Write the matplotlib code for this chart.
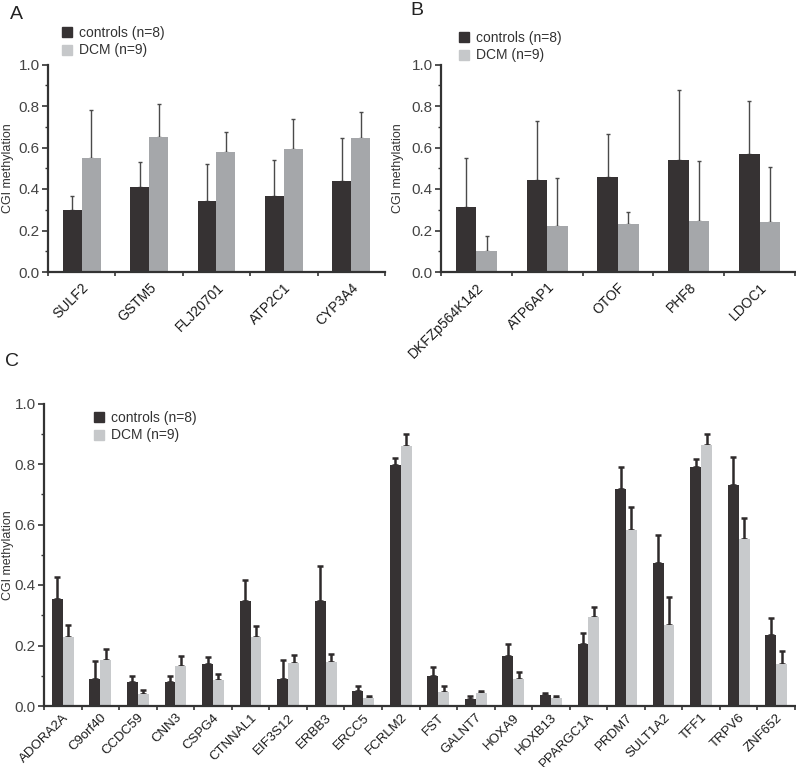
import numpy as np
import matplotlib
matplotlib.use("Agg")
import matplotlib.pyplot as plt
from matplotlib.ticker import FixedLocator, MultipleLocator
from matplotlib.patches import Patch

plt.rcParams['font.family'] = ['Liberation Sans', 'DejaVu Sans']

# panel A
a_genes = ["SULF2", "GSTM5", "FLJ20701", "ATP2C1", "CYP3A4"]
a_ctrl = [0.30, 0.408, 0.342, 0.365, 0.44]
a_ctrl_err = [0.067, 0.121, 0.179, 0.174, 0.205]
a_dcm = [0.55, 0.651, 0.579, 0.595, 0.645]
a_dcm_err = [0.23, 0.161, 0.098, 0.143, 0.127]

# panel B
b_genes = ["DKFZp564K142", "ATP6AP1", "OTOF", "PHF8", "LDOC1"]
b_ctrl = [0.313, 0.445, 0.456, 0.540, 0.567]
b_ctrl_err = [0.235, 0.281, 0.211, 0.339, 0.259]
b_dcm = [0.101, 0.223, 0.231, 0.244, 0.243]
b_dcm_err = [0.074, 0.230, 0.060, 0.291, 0.261]

# panel C
c_genes = ["ADORA2A", "C9orf40", "CCDC59", "CNN3", "CSPG4", "CTNNAL1", "EIF3S12",
           "ERBB3", "ERCC5", "FCRLM2", "FST", "GALNT7", "HOXA9", "HOXB13",
           "PPARGC1A", "PRDM7", "SULT1A2", "TFF1", "TRPV6", "ZNF652"]
c_ctrl = [0.353, 0.090, 0.079, 0.079, 0.138, 0.347, 0.090, 0.347, 0.050, 0.797,
          0.100, 0.023, 0.166, 0.037, 0.204, 0.719, 0.473, 0.791, 0.732, 0.236]
c_ctrl_err = [0.072, 0.060, 0.019, 0.021, 0.025, 0.071, 0.061, 0.116, 0.015, 0.023,
              0.030, 0.011, 0.039, 0.007, 0.037, 0.070, 0.092, 0.027, 0.091, 0.056]
c_dcm = [0.228, 0.152, 0.040, 0.132, 0.086, 0.229, 0.142, 0.145, 0.026, 0.859,
         0.047, 0.043, 0.089, 0.026, 0.293, 0.582, 0.267, 0.864, 0.551, 0.139]
c_dcm_err = [0.041, 0.037, 0.014, 0.034, 0.019, 0.036, 0.028, 0.027, 0.008, 0.040,
             0.020, 0.008, 0.023, 0.006, 0.034, 0.077, 0.093, 0.035, 0.072, 0.043]

labels = ["controls (n=8)", "DCM (n=9)"]
DARK = "#363233"
AXC = "#333333"

W, H = 796, 767


def px_axes(fig, left, top, right, bottom):
    return fig.add_axes([left / W, 1 - bottom / H, (right - left) / W, (bottom - top) / H])


def draw_panel(ax, genes, ctrl, ctrl_err, dcm, dcm_err, width, light, elw, ecol, cap,
               ylabel_x, xfont=10, xpad=6):
    x = np.arange(len(genes))
    ax.bar(x - width / 2, ctrl, width, color=DARK, zorder=2)
    ax.bar(x + width / 2, dcm, width, color=light, zorder=2)
    ax.errorbar(x - width / 2, ctrl, yerr=[np.zeros(len(x)), ctrl_err], fmt="none",
                ecolor=ecol, elinewidth=elw, capsize=cap, capthick=elw, zorder=1)
    ax.errorbar(x + width / 2, dcm, yerr=[np.zeros(len(x)), dcm_err], fmt="none",
                ecolor=ecol, elinewidth=elw, capsize=cap, capthick=elw, zorder=1)
    ax.set_xlim(-0.5, len(genes) - 0.5)
    ax.set_ylim(0, 1.0)
    ax.set_xticks(x)
    ax.set_xticklabels(genes, rotation=45, ha="right", rotation_mode="anchor",
                       fontsize=xfont, color="#1a1a1a")
    ax.xaxis.set_minor_locator(FixedLocator(np.arange(len(genes) + 1) - 0.5))
    ax.tick_params(axis="x", which="major", length=0, pad=xpad)
    ax.tick_params(axis="x", which="minor", length=3, width=1.2, color=AXC)
    ax.set_yticks(np.arange(0, 1.01, 0.2))
    ax.set_yticklabels(["0.0", "0.2", "0.4", "0.6", "0.8", "1.0"])
    ax.yaxis.set_minor_locator(MultipleLocator(0.1))
    ax.tick_params(axis="y", which="major", length=4, width=1.2, color=AXC,
                   labelsize=11, labelcolor="#444444", pad=2)
    ax.tick_params(axis="y", which="minor", length=2, width=1.0, color=AXC)
    for s in ["top", "right"]:
        ax.spines[s].set_visible(False)
    for s in ["left", "bottom"]:
        ax.spines[s].set_linewidth(1.6)
        ax.spines[s].set_color(AXC)
    ax.set_ylabel("CGI methylation", fontsize=9, color="#333333")
    # place label at a fixed pixel x (right edge of the rotated text)
    x0 = ax.get_position().x0 * W
    w = ax.get_position().width * W
    ax.yaxis.set_label_coords((ylabel_x - x0) / w, 0.5)


fig = plt.figure(figsize=(W / 100, H / 100), dpi=100)

axA = px_axes(fig, 48, 64.5, 385, 272)
draw_panel(axA, a_genes, a_ctrl, a_ctrl_err, a_dcm, a_dcm_err, 0.28,
           "#a5a7aa", 1.0, "#4a4a4a", 1.5, 14)
axB = px_axes(fig, 441, 64.5, 795, 272)
draw_panel(axB, b_genes, b_ctrl, b_ctrl_err, b_dcm, b_dcm_err, 0.29,
           "#a5a7aa", 1.0, "#4a4a4a", 1.5, 404)
axC = px_axes(fig, 44, 403.5, 795, 706)
draw_panel(axC, c_genes, c_ctrl, c_ctrl_err, c_dcm, c_dcm_err, 0.29,
           "#c8cacc", 1.8, "#2e2a2b", 2.0, 14, xfont=9.5, xpad=4)

handles = [Patch(color=DARK), Patch(color="#c6c8ca")]
for (lx, ly) in [(62, 26), (459, 31), (94, 411)]:
    fig.legend(handles, labels, loc="upper left", bbox_to_anchor=(lx / W, 1 - ly / H),
               frameon=False, fontsize=10, handlelength=0.75, handleheight=0.75,
               handletextpad=0.5, labelspacing=0.25, borderaxespad=0, borderpad=0,
               labelcolor="#333333")

fig.text(10 / W, 1 - 6 / H, "A", fontsize=14, va="top", ha="left", color="#222222")
fig.text(410 / W, 1 - 2 / H, "B", fontsize=14, va="top", ha="left", color="#222222")
fig.text(5 / W, 1 - 353 / H, "C", fontsize=14, va="top", ha="left", color="#222222")

fig.savefig("out.png", dpi=100)
